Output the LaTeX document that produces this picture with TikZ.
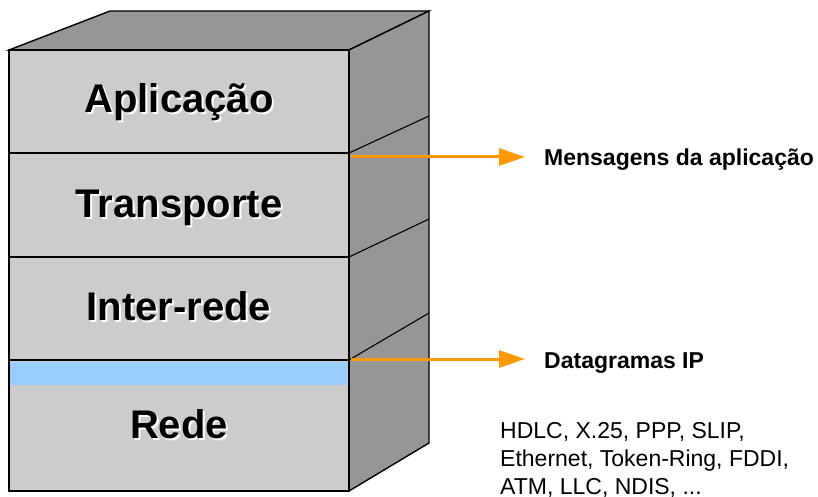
\documentclass[tikz,border=0pt]{standalone}
\usepackage{fontspec}
\setmainfont{Liberation Sans}
\usetikzlibrary{arrows.meta}
\definecolor{frontgray}{HTML}{CCCCCC}
\definecolor{sidegray}{HTML}{969696}
\definecolor{bandblue}{HTML}{99CCFF}
\definecolor{arroworange}{HTML}{FF9900}
\tikzset{
  edge/.style={draw=black, line width=1.4pt, line join=miter},
  thinedge/.style={draw=black, line width=1.1pt},
  bigtxt/.style={inner sep=0pt, anchor=base, font=\fontsize{40}{48}\selectfont\bfseries},
  shadowtxt/.style={bigtxt, text=white},
  lbl/.style={inner sep=0pt, anchor=base west, font=\fontsize{23}{28}\selectfont\bfseries},
  plain/.style={inner sep=0pt, anchor=north west, align=left, font=\fontsize{23}{28}\selectfont},
  flow/.style={draw=arroworange, line width=3pt, -{Triangle[length=26pt,width=17pt]}}
}
\begin{document}
\begin{tikzpicture}[x=1pt,y=-1pt]
\useasboundingbox (0,0) rectangle (818,497);
% top and right faces
\path[fill=sidegray, edge] (9,50) -- (110,11) -- (429,11) -- (349,50) -- cycle;
\path[fill=sidegray, edge] (349,50) -- (429,11) -- (429,443) -- (349,491) -- cycle;
% right-face dividers
\draw[thinedge] (349,153) -- (429,116);
\draw[thinedge] (349,257) -- (429,219);
\draw[thinedge] (349,360) -- (429,313);
% front face
\path[fill=frontgray, edge] (9,50) rectangle (349,491);
\fill[bandblue] (10,362) rectangle (348,385);
\draw[edge] (9,153) -- (349,153);
\draw[thinedge] (9,257) -- (349,257);
\draw[edge] (9,360) -- (349,360);
\path[edge] (9,50) rectangle (349,491);
% layer labels
\node[shadowtxt] at (181,115) {Aplicação};
\node[bigtxt] (app) at (179,113) {Aplicação};
\node[shadowtxt] at (181,219) {Transporte};
\node[bigtxt] (tra) at (179,217) {Transporte};
\node[shadowtxt] at (181,322) {Inter-rede};
\node[bigtxt] (inter) at (179,320) {Inter-rede};
\node[shadowtxt] at (181,440) {Rede};
\node[bigtxt] (rede) at (179,438) {Rede};
% arrows and labels
\coordinate (s1) at (351,157);
\coordinate (e1) at (525,157);
\coordinate (s2) at (351,359);
\coordinate (e2) at (525,359);
\draw[flow] (s1) -- (e1);
\draw[flow] (s2) -- (e2);
\node[lbl] (msg) at (544,165) {Mensagens da aplicação};
\node[lbl] (dgr) at (544,368) {Datagramas IP};
\node[plain] (proto) at (500,422.5) {HDLC, X.25, PPP, SLIP,\\Ethernet, Token-Ring, FDDI,\\ATM, LLC, NDIS, ...};
\end{tikzpicture}
\end{document}
